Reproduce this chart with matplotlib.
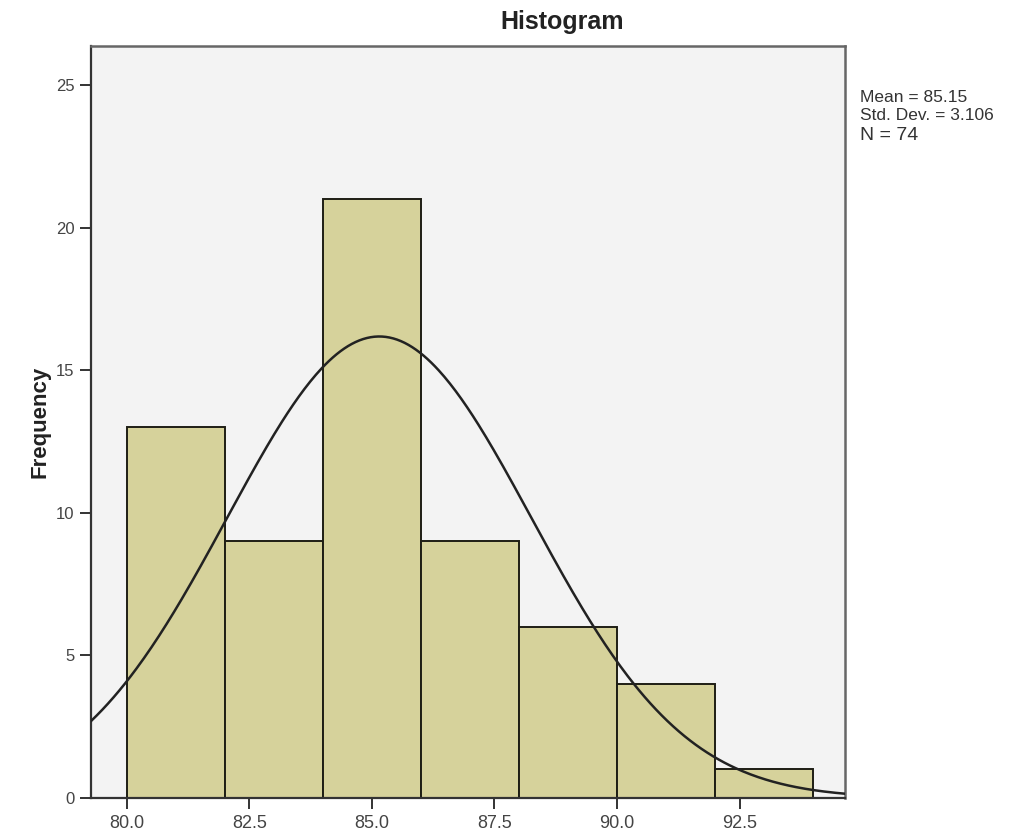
import numpy as np
import matplotlib
matplotlib.use("Agg")
import matplotlib.pyplot as plt

# Histogram bins (width 2) and their frequencies
bin_edges = [80, 82, 84, 86, 88, 90, 92, 94]
counts = [13, 9, 21, 9, 6, 4, 1]

# Summary statistics shown beside the plot
mean = 85.15
std_dev = 3.106
n_label = 74

x_ticks = [80.0, 82.5, 85.0, 87.5, 90.0, 92.5]
y_ticks = [0, 5, 10, 15, 20, 25]

plt.rcParams['font.family'] = ['Liberation Sans', 'DejaVu Sans']

fig = plt.figure(figsize=(10.19, 8.39), dpi=100)
ax = fig.add_axes([91 / 1019, 41 / 839, (845 - 91) / 1019, (798 - 46) / 839])
ax.set_facecolor('#f3f3f3')

edges = np.array(bin_edges, dtype=float)
widths = np.diff(edges)
ax.bar(edges[:-1], counts, width=widths, align='edge',
       color='#d6d29b', edgecolor='#1e1e14', linewidth=1.4, zorder=2)

# Fitted normal curve scaled to the histogram's total area
xlim = (79.27, 94.65)
xs = np.linspace(xlim[0], xlim[1], 400)
area = np.sum(counts) * widths[0]
pdf = np.exp(-0.5 * ((xs - mean) / std_dev) ** 2) / (std_dev * np.sqrt(2 * np.pi))
ax.plot(xs, area * pdf, color='#222222', linewidth=1.8, zorder=3)

ax.set_xlim(*xlim)
ax.set_ylim(0, 26.37)
ax.set_xticks(x_ticks)
ax.set_xticklabels([f"{v:.1f}" for v in x_ticks])
ax.set_yticks(y_ticks)
ax.tick_params(axis='both', direction='out', length=8, width=1.4,
               colors='#333333', labelcolor='#444444', pad=4)
ax.tick_params(axis='x', labelsize=13)
ax.tick_params(axis='y', labelsize=12)

for side in ['left', 'bottom']:
    ax.spines[side].set_color('#333333')
    ax.spines[side].set_linewidth(1.6)
for side in ['top', 'right']:
    ax.spines[side].set_color('#666666')
    ax.spines[side].set_linewidth(1.8)

ax.set_ylabel('Frequency', fontsize=16, fontweight='bold', color='#222222', labelpad=4)
fig.text(562 / 1019, 1 - 22 / 839, 'Histogram', fontsize=18, fontweight='bold',
         color='#222222', ha='center', va='center')

fig.text(860 / 1019, 1 - 97 / 839, f'Mean = {mean:.2f}', fontsize=12.5, color='#333333', va='center')
fig.text(860 / 1019, 1 - 116 / 839, f'Std. Dev. = {std_dev:.3f}', fontsize=12.5, color='#333333', va='center')
fig.text(860 / 1019, 1 - 135 / 839, f'N = {n_label}', fontsize=14, color='#333333', va='center')

fig.savefig('out.png', dpi=100, facecolor='white')
